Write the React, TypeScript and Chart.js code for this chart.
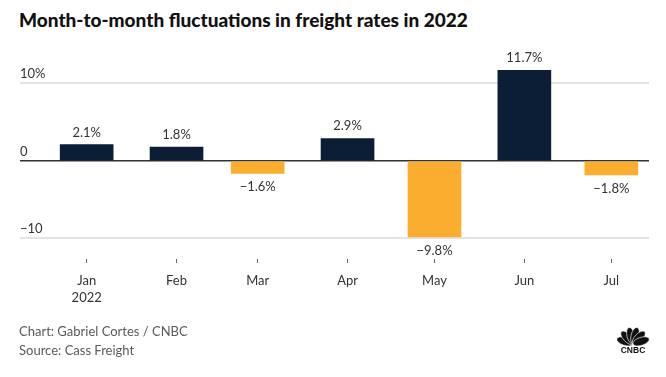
import React, { useEffect, useRef } from "react";
import { Chart, registerables } from "chart.js";

Chart.register(...registerables);

// ---- data ----
const months = ["Jan", "Feb", "Mar", "Apr", "May", "Jun", "Jul"];
const monthStartDay = [0, 31, 59, 90, 120, 151, 181]; // day of 2022 each month begins
const changes = [2.1, 1.8, -1.6, 2.9, -9.8, 11.7, -1.8];
const valueLabels = ["2.1%", "1.8%", "\u22121.6%", "2.9%", "\u22129.8%", "11.7%", "\u22121.8%"];
const yTicks = [-10, 0, 10];
const yTickLabels = ["\u221210", "0", "10%"];

const NAVY = "#0c1e36";
const ORANGE = "#fbad2f";
const FONT = "Lato, 'Open Sans', sans-serif";

const valueLabelPlugin = {
  id: "valueLabels",
  afterDatasetsDraw(chart: any) {
    const ctx = chart.ctx;
    const meta = chart.getDatasetMeta(0);
    ctx.save();
    ctx.font = `13px ${FONT}`;
    ctx.fillStyle = "#333";
    ctx.textAlign = "center";
    meta.data.forEach((bar: any, i: number) => {
      const v = changes[i];
      if (v >= 0) {
        ctx.textBaseline = "alphabetic";
        ctx.fillText(valueLabels[i], bar.x, bar.y - 8);
      } else {
        ctx.textBaseline = "top";
        ctx.fillText(valueLabels[i], bar.x, bar.y + 7);
      }
    });
    ctx.restore();
  },
};

const yLabelPlugin = {
  id: "yLabels",
  afterDraw(chart: any) {
    const ctx = chart.ctx;
    const y = chart.scales.y;
    const left = chart.chartArea.left;
    ctx.save();
    ctx.font = `13px ${FONT}`;
    ctx.fillStyle = "#333";
    ctx.textAlign = "left";
    ctx.textBaseline = "alphabetic";
    yTicks.forEach((t, i) => {
      ctx.fillText(yTickLabels[i], left, y.getPixelForValue(t) - 5);
    });
    ctx.restore();
  },
};

function Logo() {
  const feathers = [-72, -43, -14, 14, 43, 72];
  return (
    <svg width={38} height={28} viewBox="0 0 38 28" style={{ position: "absolute", left: 614, top: 326 }}>
      <g transform="translate(19,18)">
        {feathers.map((a, i) => (
          <ellipse key={i} cx={0} cy={-8.5} rx={4} ry={8.5} fill="#111" stroke="#fff" strokeWidth={0.6} transform={`rotate(${a})`} />
        ))}
      </g>
      <text x={19} y={27} textAnchor="middle" fontFamily="Arial, sans-serif" fontWeight={900} fontSize={8.5} fill="#111">
        CNBC
      </text>
    </svg>
  );
}

export default function App() {
  const ref = useRef<HTMLCanvasElement>(null);
  useEffect(() => {
    if (!ref.current) return;
    const chart = new Chart(ref.current, {
      type: "bar",
      data: {
        datasets: [
          {
            data: changes.map((v, i) => ({ x: monthStartDay[i], y: v })),
            backgroundColor: changes.map((v) => (v >= 0 ? NAVY : ORANGE)),
            barThickness: 53,
            borderWidth: 0,
          },
        ],
      },
      options: {
        animation: false,
        responsive: false,
        maintainAspectRatio: false,
        layout: { padding: { left: 20, right: 17, top: 60, bottom: 0 } },
        plugins: { legend: { display: false }, tooltip: { enabled: false }, title: { display: false } },
        scales: {
          x: {
            type: "linear",
            min: -23,
            max: 194,
            offset: false,
            afterBuildTicks: (s: any) => {
              s.ticks = monthStartDay.map((d) => ({ value: d }));
            },
            afterFit: (s: any) => {
              s.height = 377 - 259;
            },
            grid: {
              display: true,
              drawOnChartArea: false,
              drawTicks: true,
              tickLength: 4,
              tickColor: "#666",
              offset: false,
            },
            border: { display: false },
            ticks: {
              autoSkip: false,
              maxRotation: 0,
              padding: 9,
              color: "#333",
              font: { family: FONT, size: 13, lineHeight: 1.3 },
              callback: (value: any) => {
                const i = monthStartDay.indexOf(Number(value));
                if (i < 0) return "";
                return i === 0 ? [months[i], "2022"] : months[i];
              },
            },
          },
          y: {
            min: -12.65,
            max: 13.03,
            afterBuildTicks: (s: any) => {
              s.ticks = yTicks.map((v) => ({ value: v }));
            },
            afterFit: (s: any) => {
              s.width = 0;
            },
            grid: {
              drawTicks: false,
              color: (c: any) => (c.tick && c.tick.value === 0 ? "#333" : "#e3e3e3"),
              lineWidth: (c: any) => (c.tick && c.tick.value === 0 ? 1.5 : 2),
            },
            border: { display: false },
            ticks: { display: false },
          },
        },
      } as any,
      plugins: [valueLabelPlugin, yLabelPlugin],
    });
    return () => chart.destroy();
  }, []);

  return (
    <div style={{ position: "fixed", left: 0, top: 0, width: 666, height: 377, background: "#fff", overflow: "hidden" }}>
      <div
        style={{
          position: "absolute",
          left: 19,
          top: 8,
          fontFamily: FONT,
          fontWeight: 900,
          fontSize: 19,
          color: "#111",
          whiteSpace: "nowrap",
        }}
      >
        Month-to-month fluctuations in freight rates in 2022
      </div>
      <canvas ref={ref} width={666} height={377} style={{ position: "absolute", left: 0, top: 0 }} />
      <div
        style={{
          position: "absolute",
          left: 19,
          top: 322,
          fontFamily: FONT,
          fontSize: 13,
          lineHeight: "19px",
          color: "#5a5a5a",
          whiteSpace: "nowrap",
        }}
      >
        <div>Chart: Gabriel Cortes / CNBC</div>
        <div>Source: Cass Freight</div>
      </div>
      <Logo />
    </div>
  );
}
